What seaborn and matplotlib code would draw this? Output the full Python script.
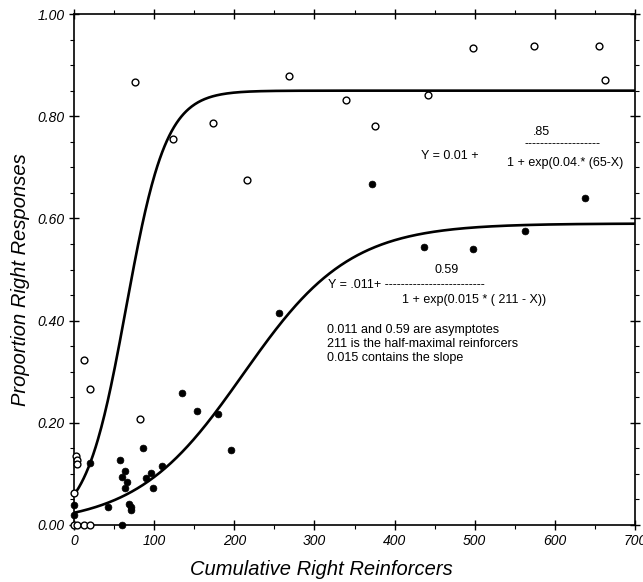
import numpy as np
import pandas as pd
import matplotlib
matplotlib.use("Agg")
import matplotlib.pyplot as plt
import seaborn as sns
from matplotlib.ticker import MultipleLocator, FormatStrFormatter

# ---- data ----
open_x = [76, 123, 173, 216, 268, 339, 375, 442, 498, 574, 655, 662,
          13, 20, 82, 2, 4, 4, 0, 0, 4, 12, 20]
open_y = [0.866, 0.755, 0.787, 0.675, 0.878, 0.832, 0.781, 0.841, 0.933, 0.937, 0.937, 0.871,
          0.323, 0.266, 0.207, 0.135, 0.127, 0.120, 0.062, 0.0, 0.0, 0.0, 0.0]

filled_x = [372, 637, 563, 437, 498, 256, 135, 154, 180, 196, 86, 57, 110, 64,
            96, 60, 90, 66, 64, 98, 69, 71, 71, 42, 0, 0, 60, 20]
filled_y = [0.667, 0.639, 0.576, 0.545, 0.541, 0.415, 0.259, 0.224, 0.218, 0.146, 0.150,
            0.127, 0.116, 0.106, 0.102, 0.093, 0.091, 0.085, 0.072, 0.072, 0.042, 0.036,
            0.029, 0.036, 0.039, 0.020, 0.0, 0.122]

# logistic fit parameters (base, amplitude, rate, midpoint) as drawn
upper_fit = [0.0, 0.85, 0.04, 65]
lower_fit = [0.0, 0.59, 0.015, 211]

x_ticks = [0, 100, 200, 300, 400, 500, 600, 700]
y_ticks = [0.0, 0.2, 0.4, 0.6, 0.8, 1.0]

xs = np.linspace(0, 700, 701)

def logistic(x, p):
    return p[0] + p[1] / (1 + np.exp(p[2] * (p[3] - x)))

curve_df = pd.concat([
    pd.DataFrame({"x": xs, "y": logistic(xs, upper_fit), "fit": "upper"}),
    pd.DataFrame({"x": xs, "y": logistic(xs, lower_fit), "fit": "lower"}),
])
open_df = pd.DataFrame({"x": open_x, "y": open_y})
filled_df = pd.DataFrame({"x": filled_x, "y": filled_y})

sns.set_theme(style="ticks")
plt.rcParams["font.family"] = ["Liberation Sans", "DejaVu Sans"]
plt.rcParams["text.color"] = "black"
plt.rcParams["axes.labelcolor"] = "black"
plt.rcParams["xtick.color"] = "black"
plt.rcParams["ytick.color"] = "black"

fig = plt.figure(figsize=(6.43, 5.82), dpi=100)
ax = fig.add_axes([74 / 643, 1 - 525 / 582, (635 - 74) / 643, (525 - 14) / 582])

sns.lineplot(data=curve_df, x="x", y="y", units="fit", estimator=None,
             color="black", linewidth=1.9, ax=ax, legend=False)
sns.scatterplot(data=open_df, x="x", y="y", ax=ax, s=24, facecolor="white",
                edgecolor="black", linewidth=1.0, clip_on=False, zorder=3)
sns.scatterplot(data=filled_df, x="x", y="y", ax=ax, s=24, color="black",
                edgecolor="black", linewidth=0.5, clip_on=False, zorder=3)

ax.set_xlim(0, 700)
ax.set_ylim(0, 1.0)
ax.set_xticks(x_ticks)
ax.set_yticks(y_ticks)
ax.yaxis.set_major_formatter(FormatStrFormatter("%.2f"))
ax.xaxis.set_minor_locator(MultipleLocator(50))
ax.yaxis.set_minor_locator(MultipleLocator(0.05))
ax.tick_params(which="major", direction="inout", length=7, width=1.0,
               top=True, right=True, labelsize=10, pad=3, color="black",
               labelcolor="black")
ax.tick_params(which="minor", direction="out", length=3, width=0.8,
               top=True, right=True, color="black")
for lab in ax.get_xticklabels() + ax.get_yticklabels():
    lab.set_fontstyle("italic")
for s in ax.spines.values():
    s.set_linewidth(1.2)
    s.set_color("black")

ax.set_xlabel("Cumulative Right Reinforcers", fontsize=14.5, fontstyle="italic",
              color="black")
ax.set_ylabel("Proportion Right Responses", fontsize=14.5, fontstyle="italic",
              color="black")
ax.xaxis.set_label_coords(0.441, -0.068)
ax.yaxis.set_label_coords(-0.078, 0.48)

fs = 9
tc = "black"
ax.text(583.6, 0.770, ".85", ha="center", va="center", fontsize=fs, color=tc)
ax.text(610, 0.745, "-------------------", ha="center", va="center", fontsize=fs, color=tc)
ax.text(469, 0.722, "Y = 0.01 +", ha="center", va="center", fontsize=fs, color=tc)
ax.text(540, 0.708, "1 + exp(0.04.* (65-X)", ha="left", va="center", fontsize=fs, color=tc)

ax.text(465, 0.499, "0.59", ha="center", va="center", fontsize=fs, color=tc)
ax.text(317.3, 0.470, "Y = .011+ -------------------------", ha="left", va="center",
        fontsize=fs, color=tc)
ax.text(409, 0.440, "1 + exp(0.015 * ( 211 - X))", ha="left", va="center", fontsize=fs, color=tc)
ax.text(315.3, 0.382, "0.011 and 0.59 are asymptotes", ha="left", va="center", fontsize=fs, color=tc)
ax.text(315.3, 0.354, "211 is the half-maximal reinforcers", ha="left", va="center",
        fontsize=fs, color=tc)
ax.text(315.3, 0.326, "0.015 contains the slope", ha="left", va="center", fontsize=fs, color=tc)

fig.savefig("out.png", dpi=100)
